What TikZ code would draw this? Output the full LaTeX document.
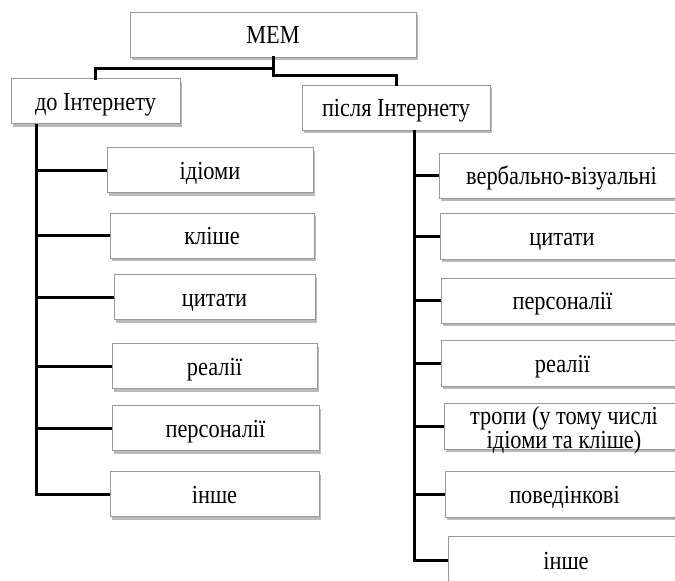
\documentclass[tikz,border=0pt]{standalone}
\usepackage{fontspec}
\setmainfont{Liberation Serif}[FakeStretch=0.86]
\usetikzlibrary{shadows}
\begin{document}
\begin{tikzpicture}[x=1pt,y=-1pt,
  box/.style={draw=black!40, line width=0.8pt, fill=white, inner sep=0pt,
    minimum height=45pt,
    font=\rmfamily\fontsize{26}{20}\selectfont,
    text height=22pt, text depth=4pt,
    drop shadow={shadow xshift=2pt, shadow yshift=-3pt, opacity=0.45, fill=black!60}},
  two/.style={text height=24pt, text depth=3pt},
  conn/.style={line width=3pt, line cap=rect}]
\useasboundingbox (0,0) rectangle (675,581);
\clip (0,0) rectangle (675,581);
% top level
\node[box, minimum width=286pt] (mem) at (273,34.5) {МЕМ};
\node[box, minimum width=169pt] (do) at (95.5,101) {до Інтернету};
\node[box, minimum width=188pt] (po) at (396,107.5) {після Інтернету};
% left children
\node[box, minimum width=206pt] (l1) at (210,170) {ідіоми};
\node[box, minimum width=204pt] (l2) at (212,235.5) {кліше};
\node[box, minimum width=201pt] (l3) at (214.5,297) {цитати};
\node[box, minimum width=205pt] (l4) at (214.5,366) {реалії};
\node[box, minimum width=207pt] (l5) at (215.5,428) {персоналії};
\node[box, minimum width=209pt] (l6) at (214.5,494) {інше};
% right children
\node[box, minimum width=245pt] (r1) at (561.5,175.5) {вербально-візуальні};
\node[box, minimum width=244pt, minimum height=46pt] (r2) at (562,236) {цитати};
\node[box, minimum width=243pt] (r3) at (562.5,300.5) {персоналії};
\node[box, minimum width=243pt, minimum height=46pt] (r4) at (562.5,363) {реалії};
\node[box, two, minimum width=240pt, minimum height=46pt] (r5) at (564,426) {\begin{tabular}{@{}c@{}}тропи (у тому числі\\ідіоми та кліше)\end{tabular}};
\node[box, minimum width=239pt, minimum height=46pt] (r6) at (564.5,494) {поведінкові};
\node[box, minimum width=236pt, minimum height=48pt] (r7) at (566,560) {інше};
% connectors
\coordinate (lt) at (36,124);
\coordinate (rt) at (414,130);
\draw[conn] (mem.south) -- ++(0,11) -| (do.north);
\draw[conn] (mem.south) -- ++(0,18) -| (po.north);
\draw[conn, line cap=butt] (lt) |- (l6.west);
\foreach \n in {l1,l2,l3,l4,l5} \draw[conn, line cap=butt] (lt |- \n.west) -- (\n.west);
\draw[conn, line cap=butt] (rt) |- (r7.west);
\foreach \n in {r1,r2,r3,r4,r5,r6} \draw[conn, line cap=butt] (rt |- \n.west) -- (\n.west);
\end{tikzpicture}
\end{document}
